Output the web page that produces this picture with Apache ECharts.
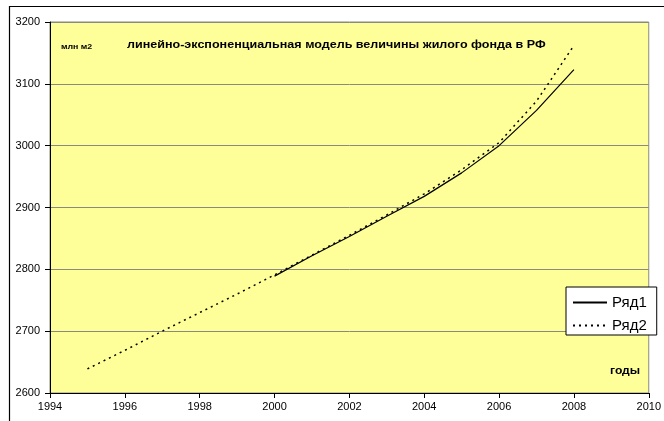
<!DOCTYPE html>
<html>
<head>
<meta charset="utf-8">
<script src="https://cdn.jsdelivr.net/npm/echarts@6/dist/echarts.min.js"></script>
<style>html,body{margin:0;padding:0;background:#fff}#c{width:664px;height:421px}</style>
</head>
<body>
<div id="c"></div>
<script>
var titleText = 'линейно-экспоненциальная модель величины жилого фонда в РФ';
var unitText = 'млн м2';
var xAxisName = 'годы';
var seriesNames = ['Ряд1', 'Ряд2'];
var years1 = [2000, 2001, 2002, 2003, 2004, 2005, 2006, 2007, 2008];
var values1 = [2789, 2822, 2853, 2886, 2918, 2956, 3000, 3057, 3123];
var years2 = [1995, 1996, 1997, 1998, 1999, 2000, 2001, 2002, 2003, 2004, 2005, 2006, 2007, 2008];
var values2 = [2639, 2669, 2700, 2730, 2760, 2791, 2823, 2855, 2888, 2922, 2961, 3005, 3072, 3162];

function pairs(xs, ys) { return xs.map(function (x, i) { return [x, ys[i]]; }); }

var FONT = '"Liberation Sans", Arial, sans-serif';
var chart = echarts.init(document.getElementById('c'), null, { renderer: 'canvas' });
chart.setOption({
  animation: false,
  backgroundColor: '#ffffff',
  textStyle: { fontFamily: FONT },
  grid: { left: 50, right: 5, top: 22, bottom: 28, show: true, backgroundColor: '#FFFF99', borderColor: '#8a8a80', borderWidth: 1 },
  xAxis: {
    type: 'value', min: 1994, max: 2010, interval: 2,
    axisLine: { show: true, onZero: false, lineStyle: { color: '#000', width: 1 } },
    axisTick: { show: true, inside: false, length: 5, lineStyle: { color: '#000' } },
    axisLabel: { color: '#000', fontSize: 11, fontFamily: FONT, margin: 8, showMaxLabel: true, formatter: function (v) { return String(v); } },
    splitLine: { show: false }
  },
  yAxis: {
    type: 'value', min: 2600, max: 3200, interval: 100,
    axisLine: { show: true, lineStyle: { color: '#000', width: 1 } },
    axisTick: { show: true, inside: false, length: 5, lineStyle: { color: '#000' } },
    axisLabel: { color: '#000', fontSize: 11, fontFamily: FONT, margin: 10, formatter: function (v) { return String(v); } },
    splitLine: { show: true, lineStyle: { color: '#8a8a80', width: 1 } }
  },
  legend: {
    left: 566, top: 287, orient: 'vertical',
    backgroundColor: '#fff', borderColor: '#000', borderWidth: 1,
    padding: [8, 10, 2, 6], itemGap: 8, itemWidth: 34, itemHeight: 10,
    itemStyle: { opacity: 0 },
    textStyle: { color: '#000', fontSize: 15, fontFamily: FONT },
    data: seriesNames
  },
  graphic: [
    { type: 'rect', shape: { x: 9.5, y: 6.5, width: 700, height: 500 }, style: { fill: null, stroke: '#000', lineWidth: 1.2 }, z: 100 },
    { type: 'text', x: 127, y: 39, scaleX: 1.14, style: { text: titleText, font: 'bold 11px ' + FONT, fill: '#000' }, z: 100 },
    { type: 'text', x: 61, y: 43, scaleX: 1.1, style: { text: unitText, font: 'bold 8px ' + FONT, fill: '#000' }, z: 100 },
    { type: 'text', x: 610, y: 365, scaleX: 1.1, style: { text: xAxisName, font: 'bold 11px ' + FONT, fill: '#000' }, z: 100 }
  ],
  series: [
    { name: seriesNames[0], type: 'line', data: pairs(years1, values1), symbol: 'none', lineStyle: { color: '#000', width: 1.2, type: 'solid' }, itemStyle: { color: '#000' } },
    { name: seriesNames[1], type: 'line', data: pairs(years2, values2), symbol: 'none', lineStyle: { color: '#000', width: 1.5, type: [2, 4] }, itemStyle: { color: '#000' } }
  ]
});
</script>
</body>
</html>
